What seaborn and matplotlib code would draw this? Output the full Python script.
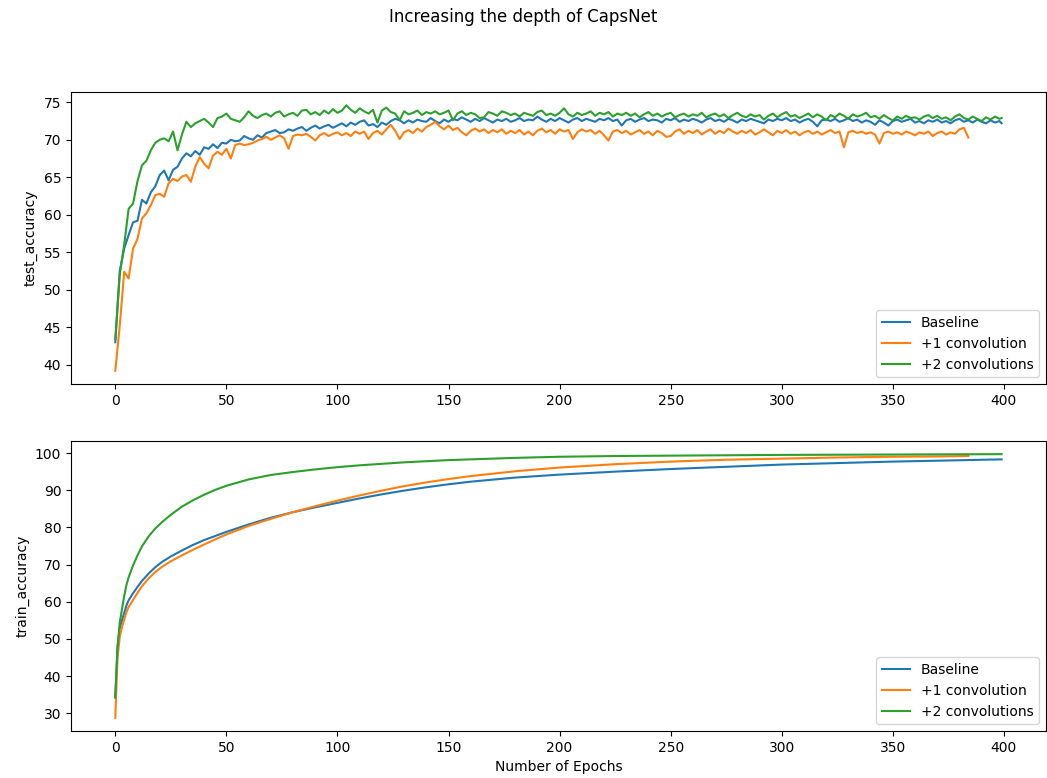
import matplotlib
matplotlib.use("Agg")
import matplotlib.pyplot as plt
import seaborn as sns

series_names = ["Baseline", "+1 convolution", "+2 convolutions"]
series_colors = ["#1f77b4", "#ff7f0e", "#2ca02c"]

# ---- test accuracy (every 2nd epoch) ----
test_epochs_base = list(range(0, 400, 2)) + [399]
test_epochs_conv1 = list(range(0, 385, 2))
test_epochs_conv2 = list(range(0, 400, 2)) + [399]

test_base = [
    43.0, 52.5, 55.5, 57.3, 59.0, 59.2, 62.0, 61.5, 63.0, 63.8,
    65.3, 65.9, 64.6, 66.0, 66.4, 67.5, 68.2, 67.8, 68.5, 68.0,
    69.0, 68.8, 69.4, 68.9, 69.6, 69.5, 70.0, 69.8, 69.9, 70.5,
    70.2, 70.0, 70.6, 70.3, 70.9, 71.1, 71.3, 70.9, 71.0, 71.4,
    71.2, 71.5, 71.7, 71.2, 71.6, 71.9, 71.5, 71.8, 72.0, 71.6,
    71.9, 72.2, 71.8, 72.3, 72.0, 72.4, 72.6, 71.9, 72.1, 71.7,
    72.3, 72.0, 72.5, 72.8, 72.6, 72.2, 72.6, 72.3, 72.7, 72.5,
    72.4, 72.9, 72.5, 72.2, 72.7, 72.4, 72.8, 72.6, 73.0, 72.7,
    72.4, 72.8, 72.5, 72.9, 72.6, 72.3, 72.7, 72.5, 72.8, 72.4,
    72.6, 72.9, 72.5, 72.7, 72.6, 73.1, 72.7, 72.4, 72.8, 72.5,
    72.9, 72.6, 72.3, 72.7, 72.9, 72.5, 72.8, 72.6, 72.4, 72.8,
    72.6, 72.9, 72.5, 72.7, 71.9, 72.6, 72.8, 72.4, 72.7, 72.9,
    72.5, 72.7, 72.6, 72.3, 72.8, 72.6, 72.9, 72.4, 72.7, 72.5,
    72.8, 72.6, 72.3, 72.7, 72.9, 72.5, 72.7, 72.4, 72.8, 72.6,
    72.3, 72.7, 72.5, 72.8, 72.6, 72.4, 72.2, 72.7, 72.5, 72.8,
    72.6, 72.9, 72.5, 72.7, 72.3, 72.6, 72.8, 72.4, 71.8, 72.6,
    72.7, 72.5, 72.8, 72.4, 72.6, 72.9, 72.5, 72.7, 72.3, 72.6,
    72.4, 72.0, 72.6, 72.3, 71.9, 72.5, 72.7, 72.4, 72.6, 72.8,
    72.3, 72.5, 72.2, 72.6, 72.4, 72.7, 72.3, 72.5, 72.2, 72.6,
    72.8, 72.4, 72.6, 72.3, 72.7, 72.4, 72.2, 72.6, 72.3, 72.5,
    72.2,
]

test_conv1 = [
    39.2, 45.2, 52.4, 51.5, 55.5, 56.8, 59.5, 60.2, 61.3, 62.6,
    62.8, 62.4, 64.2, 64.8, 64.5, 65.1, 65.3, 64.4, 66.4, 67.7,
    66.8, 66.2, 67.9, 68.4, 68.0, 68.8, 67.5, 69.3, 69.5, 69.3,
    69.4, 69.6, 69.9, 70.1, 70.4, 70.0, 70.3, 70.6, 70.2, 68.8,
    70.5, 70.7, 70.6, 70.8, 70.4, 69.9, 70.6, 70.9, 70.5, 70.8,
    71.0, 70.6, 70.9, 70.5, 71.1, 70.8, 71.1, 70.1, 70.9, 71.2,
    70.7, 71.4, 72.0, 71.2, 70.1, 71.0, 71.3, 70.9, 71.5, 71.1,
    71.7, 72.0, 72.4, 71.8, 71.4, 71.9, 71.3, 71.6, 71.0, 70.6,
    71.2, 71.5, 71.1, 71.4, 70.9, 71.3, 71.0, 71.4, 70.8, 71.2,
    70.9, 71.3, 70.7, 71.1, 70.6, 71.2, 71.5, 71.0, 71.3, 70.8,
    71.4, 71.1, 71.3, 70.1, 71.0, 71.4, 71.1, 71.3, 70.8, 71.2,
    70.6, 69.9, 71.1, 71.3, 70.9, 71.2, 70.7, 71.0, 71.3, 70.8,
    71.1, 70.6, 71.2, 70.9, 70.4, 70.5, 71.1, 71.4, 70.8, 71.2,
    70.9, 71.3, 70.7, 71.1, 71.4, 70.8, 71.2, 70.9, 71.5, 71.1,
    70.8, 71.2, 70.9, 71.3, 70.7, 71.0, 71.4, 71.0, 70.6, 71.2,
    70.9, 71.3, 70.8, 71.1, 70.6, 71.0, 71.2, 70.8, 71.1, 70.7,
    71.0, 71.3, 70.9, 71.1, 69.0, 71.0, 71.2, 70.9, 71.1, 70.8,
    71.0, 70.7, 69.5, 70.9, 71.1, 70.8, 71.0, 70.7, 71.1, 70.9,
    70.6, 71.0, 70.8, 71.1, 70.5, 70.9, 71.1, 70.7, 71.0, 70.8,
    71.4, 71.6, 70.3,
]

test_conv2 = [
    43.4, 52.0, 56.0, 60.8, 61.5, 64.5, 66.6, 67.2, 68.6, 69.6,
    70.0, 70.2, 69.8, 71.1, 68.6, 70.7, 72.4, 71.7, 72.2, 72.5,
    72.8, 72.3, 71.7, 72.9, 73.1, 73.5, 72.8, 72.6, 72.4, 73.0,
    73.8, 73.2, 72.9, 73.3, 73.5, 73.1, 73.6, 73.8, 73.1, 73.4,
    73.6, 73.2, 73.9, 74.0, 73.4, 73.7, 73.3, 73.9, 73.5, 74.1,
    73.6, 73.9, 74.6, 74.0, 73.6, 74.2, 73.8, 73.5, 74.0, 72.3,
    73.9, 74.3, 73.7, 73.5, 72.6, 73.8, 73.4, 73.6, 73.9, 73.3,
    73.7, 73.5, 73.8, 73.4, 73.6, 73.9, 72.6, 73.5, 73.8, 73.3,
    73.6, 73.4, 72.9, 73.0, 73.7, 73.5, 73.2, 73.8, 73.6, 73.3,
    73.5, 73.1, 73.6, 73.4, 73.2, 73.7, 73.9, 73.3, 73.5, 73.2,
    73.6, 74.2, 73.4, 73.1, 73.6, 73.3, 73.5, 73.8, 73.2, 73.6,
    73.4, 73.7, 73.1, 73.5, 73.3, 73.6, 73.2, 73.5, 73.0, 73.4,
    73.7, 73.2, 73.5, 73.1, 73.4, 73.6, 73.0, 73.3, 73.5, 73.1,
    73.4, 73.2, 73.6, 73.0, 73.3, 73.5, 73.1, 73.4, 72.9, 73.3,
    73.6, 73.2, 73.0, 73.4, 73.1, 73.3, 72.7, 73.2, 73.5, 73.0,
    73.4, 73.7, 73.1, 73.3, 72.9, 73.2, 73.5, 73.0, 73.4, 73.1,
    72.6, 73.3, 73.0, 73.5, 73.2, 72.8, 73.4, 73.1, 73.3, 73.6,
    73.0, 73.2, 72.8, 73.3, 72.9, 72.6, 73.1, 72.8, 73.2, 72.9,
    73.0, 72.7, 73.1, 73.3, 72.9, 73.2, 72.8, 73.0, 72.6, 73.1,
    73.4, 72.9, 72.7, 73.1, 72.8, 72.5, 73.0, 72.7, 73.1, 72.8,
    72.9,
]

# ---- train accuracy ----
train_epochs_base = [0, 1, 2, 3, 4, 5, 6, 8, 10, 12, 15, 18, 21, 25, 30, 35, 40, 45, 50,
                     60, 70, 80, 90, 100, 110, 120, 130, 140, 150, 160, 180, 200, 225,
                     250, 275, 300, 325, 350, 375, 399]
train_base = [34.5, 48.0, 53.0, 55.0, 57.0, 59.0, 60.4, 62.3, 64.0, 65.6, 67.6, 69.3,
              70.7, 72.2, 73.8, 75.3, 76.6, 77.7, 78.8, 80.8, 82.6, 84.1, 85.4, 86.6,
              87.8, 88.9, 89.9, 90.8, 91.6, 92.3, 93.4, 94.2, 95.0, 95.7, 96.3, 96.9,
              97.3, 97.7, 98.0, 98.3]

train_epochs_conv1 = [0, 1, 2, 3, 4, 5, 6, 8, 10, 12, 15, 18, 21, 25, 30, 35, 40, 45, 50,
                      60, 70, 80, 90, 100, 110, 120, 130, 140, 150, 160, 180, 200, 225,
                      250, 275, 300, 325, 350, 375, 384]
train_conv1 = [28.8, 45.0, 50.5, 53.2, 55.2, 57.2, 58.6, 60.5, 62.4, 64.2, 66.3, 68.0,
               69.4, 70.9, 72.5, 74.0, 75.4, 76.8, 78.1, 80.4, 82.3, 84.1, 85.7, 87.2,
               88.6, 89.9, 91.1, 92.1, 93.0, 93.8, 95.1, 96.1, 97.0, 97.7, 98.2, 98.5,
               98.8, 99.0, 99.1, 99.2]

train_epochs_conv2 = [0, 1, 2, 3, 4, 5, 6, 8, 10, 12, 15, 18, 21, 25, 30, 35, 40, 45, 50,
                      60, 70, 80, 90, 100, 110, 120, 130, 140, 150, 160, 180, 200, 225,
                      250, 275, 300, 325, 350, 375, 399]
train_conv2 = [34.2, 47.5, 54.5, 58.0, 61.5, 64.5, 66.6, 69.8, 72.5, 74.9, 77.6, 79.7,
               81.4, 83.4, 85.6, 87.3, 88.8, 90.1, 91.2, 92.9, 94.1, 94.9, 95.6, 96.2,
               96.7, 97.1, 97.5, 97.8, 98.1, 98.3, 98.7, 99.0, 99.2, 99.3, 99.4, 99.5,
               99.55, 99.6, 99.65, 99.7]

fig = plt.figure(figsize=(10.47, 7.78), dpi=100)
ax1 = fig.add_axes([0.0678, 0.5064, 0.9312, 0.3753])
ax2 = fig.add_axes([0.0678, 0.0604, 0.9312, 0.3728])

test_sets = [(test_epochs_base, test_base), (test_epochs_conv1, test_conv1),
             (test_epochs_conv2, test_conv2)]
train_sets = [(train_epochs_base, train_base), (train_epochs_conv1, train_conv1),
              (train_epochs_conv2, train_conv2)]

for (x, y), name, c in zip(test_sets, series_names, series_colors):
    sns.lineplot(x=x, y=y, ax=ax1, label=name, color=c, linewidth=1.5)
for (x, y), name, c in zip(train_sets, series_names, series_colors):
    sns.lineplot(x=x, y=y, ax=ax2, label=name, color=c, linewidth=1.5)

ax1.set_ylabel("test_accuracy")
ax1.set_xlabel("")
ax2.set_ylabel("train_accuracy")
ax2.set_xlabel("Number of Epochs")
for ax in (ax1, ax2):
    ax.set_xticks([0, 50, 100, 150, 200, 250, 300, 350, 400])
    ax.legend(loc="lower right")
ax1.set_yticks([40, 45, 50, 55, 60, 65, 70, 75])
ax2.set_yticks([30, 40, 50, 60, 70, 80, 90, 100])

fig.suptitle("Increasing the depth of CapsNet", y=0.978, va="center", fontsize=12)
fig.savefig("out.png", dpi=100)
